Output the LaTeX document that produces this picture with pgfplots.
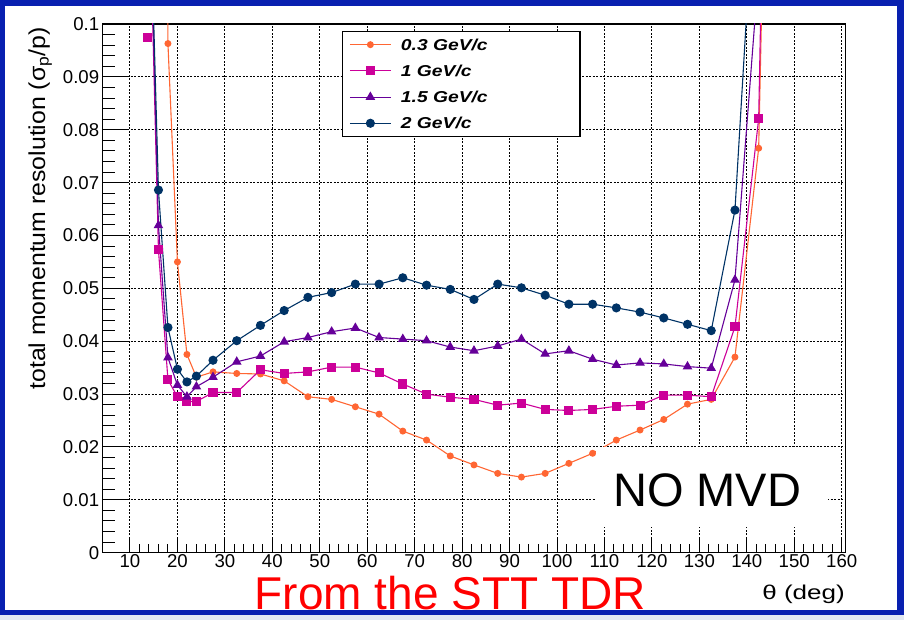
\documentclass[border=0pt]{standalone}
\usepackage{pgfplots}
\pgfplotsset{compat=1.18}
\usepackage{fontspec}
\setmainfont{Liberation Sans}
\newfontfamily\legfont[FakeStretch=1.22]{Liberation Sans}
\newfontfamily\xtitlefont[FakeStretch=1.3]{Liberation Sans}
\newfontfamily\ytitlefont[FakeStretch=1.08]{Liberation Sans}
\definecolor{corange}{RGB}{255,102,51}
\definecolor{cmag}{RGB}{204,0,153}
\definecolor{cpur}{RGB}{102,0,153}
\definecolor{cnavy}{RGB}{0,51,102}
\definecolor{slideblue}{RGB}{8,32,176}
\definecolor{slidegray}{RGB}{226,232,242}
\newcommand\lgent[1]{\makebox[172pt][l]{\rule[-7.5pt]{0pt}{26.2pt}#1}}

\begin{document}
\begin{tikzpicture}[x=1pt,y=1pt]
\useasboundingbox (0,0) rectangle (904,620);
\fill[slidegray] (0,0) rectangle (904,5);
\fill[slideblue] (0,5) rectangle (904,620);
\fill[white] (5,10) rectangle (897,614);

\begin{axis}[
  at={(102.7pt,67.3pt)}, anchor=south west,
  scale only axis, width=742.8pt, height=528.7pt,
  xmin=4.25, xmax=160.8, ymin=0, ymax=0.1,
  xtick={10,20,30,40,50,60,70,80,90,100,110,120,130,140,150,160},
  xticklabels={10,20,30,40,50,60,70,80,90,100,110,120,130,140,150,160},
  minor x tick num=4,
  ytick={0,0.01,0.02,0.03,0.04,0.05,0.06,0.07,0.08,0.09,0.1},
  yticklabels={},
  scaled y ticks=false,
  ytick style={draw=none},
  xtick pos=bottom,
  tick align=inside, major tick length=14pt, minor tick length=9pt,
  tick style={black, line width=1pt},
  grid=major,
  major grid style={black, line width=1pt, dash pattern=on 2pt off 1.5pt},
  axis line style={black, line width=1.3pt},
  xticklabel style={font=\fontsize{18.6}{20}\selectfont, yshift=2pt},
  legend image code/.code={\draw[mark repeat=2,mark phase=2,#1] plot coordinates {(0pt,0pt) (20.5pt,0pt) (41pt,0pt)};},
  legend style={at={(0.3218,0.9868)}, anchor=north west, draw=black, line width=1.2pt,
    fill=white, inner xsep=7pt, inner ysep=0pt, row sep=0pt, column sep=9.5pt,
    nodes={inner sep=0pt, text depth=},
    font=\legfont\bfseries\itshape\fontsize{15.8}{16}\selectfont},
  legend cell align=left,
]
\addplot[corange, line width=1.1pt, mark=*, mark size=2.9pt] coordinates {
(17.9,0.11) (18,0.0963) (20,0.0550) (22,0.0375) (24,0.0332) (27.5,0.0342) (32.5,0.0339)
(37.5,0.0338) (42.5,0.0325) (47.5,0.0295) (52.5,0.0290) (57.5,0.0276) (62.5,0.0262)
(67.5,0.0230) (72.5,0.0213) (77.5,0.0183) (82.5,0.0166) (87.5,0.0150) (92.5,0.0143)
(97.5,0.0150) (102.5,0.0169) (107.5,0.0188) (112.5,0.0213) (117.5,0.0232) (122.5,0.0252)
(127.5,0.0281) (132.5,0.0290) (137.5,0.0370) (142.5,0.0765) (143.3,0.11)};
\addlegendentry{\lgent{0.3 GeV/c}}
\addplot[cmag, line width=1.1pt, mark=square*, mark size=4pt] coordinates {
(14.6,0.107) (16,0.0573) (18,0.0327) (20,0.0295) (22,0.0286) (24,0.0286) (27.5,0.0303)
(32.5,0.0303) (37.5,0.0346) (42.5,0.0339) (47.5,0.0342) (52.5,0.0351) (57.5,0.0351)
(62.5,0.0340) (67.5,0.0319) (72.5,0.0300) (77.5,0.0294) (82.5,0.0290) (87.5,0.0279)
(92.5,0.0283) (97.5,0.0271) (102.5,0.0269) (107.5,0.0271) (112.5,0.0277) (117.5,0.0279)
(122.5,0.0298) (127.5,0.0298) (132.5,0.0295) (137.5,0.0427) (142.5,0.0821) (143.1,0.11)};
\addlegendentry{\lgent{1 GeV/c}}
\addplot[cmag, only marks, mark=square*, mark size=4pt, forget plot] coordinates {(13.6,0.0975)};
\addplot[cpur, line width=1.1pt, mark=triangle*, mark size=4.5pt] coordinates {
(14.6,0.11) (16,0.0619) (18,0.0369) (20,0.0317) (22,0.0295) (24,0.0314) (27.5,0.0332)
(32.5,0.0361) (37.5,0.0372) (42.5,0.0399) (47.5,0.0407) (52.5,0.0418) (57.5,0.0425)
(62.5,0.0407) (67.5,0.0404) (72.5,0.0401) (77.5,0.0389) (82.5,0.0382) (87.5,0.0391)
(92.5,0.0404) (97.5,0.0376) (102.5,0.0382) (107.5,0.0366) (112.5,0.0355) (117.5,0.0359)
(122.5,0.0357) (127.5,0.0352) (132.5,0.0349) (137.5,0.0516) (142.5,0.11)};
\addlegendentry{\lgent{1.5 GeV/c}}
\addplot[cnavy, line width=1.1pt, mark=*, mark size=4pt] coordinates {
(14.7,0.11) (16,0.0686) (18,0.0426) (20,0.0347) (22,0.0323) (24,0.0334) (27.5,0.0364)
(32.5,0.0401) (37.5,0.0430) (42.5,0.0458) (47.5,0.0483) (52.5,0.0492) (57.5,0.0508)
(62.5,0.0508) (67.5,0.0520) (72.5,0.0506) (77.5,0.0498) (82.5,0.0479) (87.5,0.0508)
(92.5,0.0501) (97.5,0.0487) (102.5,0.0470) (107.5,0.0470) (112.5,0.0463) (117.5,0.0455)
(122.5,0.0444) (127.5,0.0432) (132.5,0.0420) (137.5,0.0648) (140.5,0.11)};
\addlegendentry{\lgent{2 GeV/c}}
\end{axis}

\begin{axis}[
  at={(102.7pt,67.3pt)}, anchor=south west,
  scale only axis, width=742.8pt, height=528.7pt,
  xmin=4.25, xmax=160.8, ymin=0, ymax=0.1,
  hide x axis,
  ytick={0,0.01,0.02,0.03,0.04,0.05,0.06,0.07,0.08,0.09,0.1},
  yticklabels={0,0.01,0.02,0.03,0.04,0.05,0.06,0.07,0.08,0.09,0.1},
  scaled y ticks=false,
  minor y tick num=4,
  ytick pos=left,
  tick align=inside, major tick length=26pt, minor tick length=12pt,
  tick style={black, line width=1pt},
  axis line style={black, line width=1.3pt},
  yticklabel style={font=\fontsize{18.6}{20}\selectfont},
]
\end{axis}

\fill[white] (596,93) rectangle (828,173);
\node[anchor=base west, inner sep=0pt, font=\fontsize{47}{47}\selectfont] at (613,113.5) {NO MVD};
\node[anchor=base west, inner sep=0pt, text=red, font=\fontsize{46}{46}\selectfont] at (254.6,10.5) {From the STT TDR};
\node[rotate=90, anchor=base east, inner sep=0pt, font=\ytitlefont\fontsize{23}{23}\selectfont] at (45,593) {total momentum resolution (σ\textsubscript{p}/p)};
\node[anchor=base east, inner sep=0pt, font=\xtitlefont\fontsize{20}{20}\selectfont] at (845,20.7) {θ (deg)};
\end{tikzpicture}
\end{document}
